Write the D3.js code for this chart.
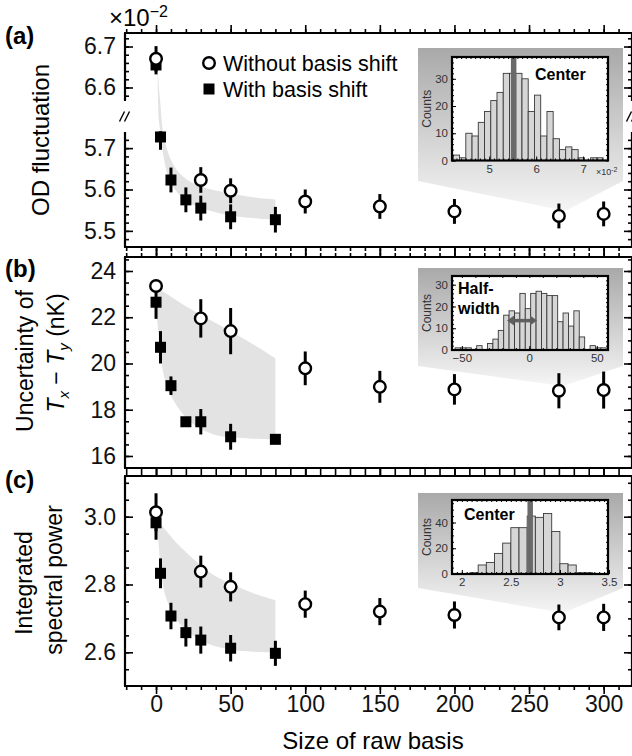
<!DOCTYPE html>
<html lang="en">
<head>
<meta charset="UTF-8">
<title>Raw basis size</title>
<script src="https://cdn.jsdelivr.net/npm/d3@7"></script>
<style>
  body { margin: 0; background: #fff; }
  svg { display: block; font-family: "Liberation Sans", Arial, sans-serif; }
</style>
</head>
<body>
<div id="chart-space"></div>
<script>
// ---- values ----
var sizeOpen   = [0, 30, 50, 100, 150, 200, 270, 300];   // without basis shift
var sizeFilled = [0, 3, 10, 20, 30, 50, 80];              // with basis shift

// (a) OD fluctuation, x 10^-2
var odOpen      = [6.670, 5.623, 5.597, 5.571, 5.559, 5.547, 5.536, 5.541];
var odOpenErr   = [0.031, 0.031, 0.030, 0.029, 0.030, 0.030, 0.030, 0.030];
var odFilled    = [6.655, 5.727, 5.623, 5.575, 5.555, 5.534, 5.527];
var odFilledErr = [0.023, 0.031, 0.030, 0.030, 0.030, 0.030, 0.031];
var odBandHi = [[1, 6.645], [2.7, 6.57], [4.9, 5.735], [8.3, 5.687], [13.9, 5.647], [22.8, 5.619], [34, 5.603], [49.7, 5.591], [65.3, 5.581], [80, 5.576]];
var odBandLo = [[1, 6.64], [2, 6.0], [3, 5.75], [5, 5.68], [10, 5.615], [20, 5.573], [30, 5.556], [50, 5.537], [80, 5.527]];

// (b) uncertainty of Tx - Ty (nK)
var tOpen      = [23.35, 21.95, 21.40, 19.79, 18.99, 18.88, 18.82, 18.85];
var tOpenErr   = [0.25, 0.83, 1.00, 0.73, 0.69, 0.66, 0.76, 0.80];
var tFilled    = [22.65, 20.70, 19.04, 17.48, 17.48, 16.83, 16.72];
var tFilledErr = [0.72, 0.70, 0.40, 0.20, 0.55, 0.56, 0.20];
var tBandHi = [[0.5, 23.26], [4.9, 23.1], [11.6, 22.82], [20.6, 22.45], [38.5, 21.8], [56.4, 21.16], [69.8, 20.65], [80, 20.22]];
var tBandLo = [[0.5, 22.17], [2.7, 20.58], [6, 19.28], [11.6, 18.42], [20.6, 17.62], [29.5, 17.19], [40.7, 16.9], [51.9, 16.8], [80, 16.71]];

// (c) integrated spectral power
var pOpen      = [3.013, 2.838, 2.793, 2.742, 2.720, 2.710, 2.703, 2.703];
var pOpenErr   = [0.056, 0.047, 0.043, 0.040, 0.040, 0.040, 0.038, 0.040];
var pFilled    = [2.982, 2.833, 2.707, 2.658, 2.636, 2.612, 2.597];
var pFilledErr = [0.050, 0.044, 0.039, 0.041, 0.040, 0.039, 0.037];
var pBandHi = [[0.5, 2.99], [7.2, 2.956], [16.1, 2.912], [38.5, 2.828], [51.9, 2.799], [65.3, 2.774], [80, 2.754]];
var pBandLo = [[0.5, 2.99], [1.5, 2.931], [3.8, 2.823], [7.2, 2.754], [13.9, 2.695], [22.8, 2.656], [34, 2.627], [51.9, 2.607], [80, 2.599]];

// inset histograms (counts per bin)
var histCenterOD   = [2, 1, 10, 9, 14, 18, 22, 25, 32, 32, 32, 30, 18, 24, 9, 18, 8, 4, 5, 4, 1, 0, 1, 1];
var histCenterODStart = 4.234, histCenterODWidth = 0.133, centerOD = 5.52;
var histHalfWidth  = [0, 1, 1, 1, 0, 2, 0, 3, 5, 9, 16, 18, 17, 26, 19, 26, 27, 26, 25, 25, 13, 17, 11, 18, 6, 0, 2, 1, 1];
var histHalfWidthStart = -59, histHalfWidthWidth = 4, halfWidthArrow = [-16.5, 5.7], halfWidthArrowAt = 13.5;
var histCenterP    = [0, 1, 7, 9, 16, 24, 36, 36, 45, 44, 47, 33, 8, 7, 1, 1];
var histCenterPStart = 2.0, histCenterPWidth = 0.0833, centerP = 2.697;

var xMajor = [0, 50, 100, 150, 200, 250, 300];
var legendLabels = ["Without basis shift", "With basis shift"];

// ---- layout ----
var width = 632, height = 756;
var svg = d3.select("#chart-space").append("svg")
    .attr("width", width).attr("height", height);

var defs = svg.append("defs");
var grad = defs.append("linearGradient").attr("id", "fade")
    .attr("x1", 0).attr("y1", 0).attr("x2", 0).attr("y2", 1);
grad.append("stop").attr("offset", 0).attr("stop-color", "#a9a9a9");
grad.append("stop").attr("offset", 0.8).attr("stop-color", "#e6e6e6");
grad.append("stop").attr("offset", 1).attr("stop-color", "#f6f6f6");

var xScale = d3.scaleLinear().domain([-20.8, 319]).range([125, 632]);
var xMinor = d3.range(-20, 320, 10);

// ---- insets (drawn first so the data marks sit on top) ----
function drawInset(c) {
  var g = svg.append("g");
  g.append("path").attr("d", d3.line()(c.shape) + "Z").attr("fill", "url(#fade)");
  var fx = c.frame[0], fy = c.frame[1], fw = c.frame[2], fh = c.frame[3];
  var ix = d3.scaleLinear().domain(c.xDomain).range([fx, fx + fw]);
  var iy = d3.scaleLinear().domain(c.yDomain).range([fy + fh, fy]);
  g.append("rect").attr("x", fx).attr("y", fy).attr("width", fw).attr("height", fh).attr("fill", "#fff");
  defs.append("clipPath").attr("id", c.id).append("rect")
    .attr("x", fx).attr("y", fy).attr("width", fw).attr("height", fh);
  var body = g.append("g").attr("clip-path", "url(#" + c.id + ")");
  var bins = c.counts.map(function(n, i){ return { a: c.start + i * c.width, b: c.start + (i + 1) * c.width, n: n }; });
  body.selectAll("rect.bar").data(bins).join("rect")
    .attr("x", function(d){ return ix(d.a); }).attr("width", function(d){ return ix(d.b) - ix(d.a); })
    .attr("y", function(d){ return iy(d.n); }).attr("height", function(d){ return iy(0) - iy(d.n); })
    .attr("fill", "#d6d6d6").attr("stroke", "#3a3a3a").attr("stroke-width", 0.9);
  if (c.center != null) {
    body.append("line").attr("x1", ix(c.center)).attr("x2", ix(c.center))
      .attr("y1", fy).attr("y2", fy + fh).attr("stroke", "#6a6a6a").attr("stroke-width", 5.5);
  }
  if (c.arrow) {
    var ay = iy(c.arrowAt), a0 = ix(c.arrow[0]), a1 = ix(c.arrow[1]);
    body.append("line").attr("x1", a0 + 4).attr("x2", a1 - 4).attr("y1", ay).attr("y2", ay)
      .attr("stroke", "#5e5e5e").attr("stroke-width", 3.5);
    body.append("path").attr("fill", "#5e5e5e")
      .attr("d", "M" + a0 + "," + ay + "l7,-5v10Z M" + a1 + "," + ay + "l-7,-5v10Z");
  }
  var tk = function(axisFn, scale, vals, len, fmt, tx, ty) {
    var a = axisFn(scale).tickValues(vals).tickSize(-len).tickPadding(4).tickFormat(fmt);
    var t = g.append("g").attr("transform", "translate(" + tx + "," + ty + ")").call(a);
    t.select(".domain").remove();
    t.selectAll(".tick line").attr("stroke", "#000").attr("stroke-width", 1);
    t.selectAll("text").attr("font-size", 11.5).attr("fill", "#333")
      .attr("font-family", "Liberation Sans, Arial, sans-serif");
  };
  tk(d3.axisBottom, ix, c.xMinor, 2, "", 0, fy + fh);
  tk(d3.axisTop, ix, c.xMinor, 2, "", 0, fy);
  tk(d3.axisLeft, iy, c.yMinor, 2, "", fx, 0);
  tk(d3.axisRight, iy, c.yMinor, 2, "", fx + fw, 0);
  tk(d3.axisBottom, ix, c.xTicks, 4, c.xFmt, 0, fy + fh);
  tk(d3.axisLeft, iy, c.yTicks, 4, d3.format("d"), fx, 0);
  g.append("rect").attr("x", fx).attr("y", fy).attr("width", fw).attr("height", fh)
    .attr("fill", "none").attr("stroke", "#000").attr("stroke-width", 2.2);
  g.append("text").attr("transform", "translate(" + (fx - 21) + "," + (fy + fh / 2) + ") rotate(-90)")
    .attr("text-anchor", "middle").attr("font-size", 12).attr("fill", "#333").text("Counts");
  c.label.forEach(function(l, i) {
    g.append("text").attr("x", c.labelX).attr("y", c.labelY + i * 20)
      .attr("font-size", 16).attr("font-weight", "bold").text(l);
  });
  return g;
}

var ia = drawInset({ id: "clipA", shape: [[418, 48], [623, 48], [623, 181], [565, 211], [418, 181]],
  frame: [452, 57, 156, 103.5], xDomain: [4.206, 7.53], yDomain: [0, 38],
  counts: histCenterOD, start: histCenterODStart, width: histCenterODWidth, center: centerOD,
  xTicks: [5, 6, 7], xMinor: d3.range(4.3, 7.5, 0.1), xFmt: d3.format("d"),
  yTicks: [0, 10, 20, 30], yMinor: d3.range(0, 38, 2),
  label: ["Center"], labelX: 535, labelY: 80 });
var xa2 = ia.append("text").attr("x", 596).attr("y", 175).attr("font-size", 9).attr("fill", "#333");
xa2.append("tspan").text("\u00d710");
xa2.append("tspan").attr("dy", -3).attr("font-size", 7).text("-2");

drawInset({ id: "clipB", shape: [[418, 268], [623, 268], [623, 366], [563, 386], [418, 366]],
  frame: [452, 276, 156, 74], xDomain: [-57.3, 58.3], yDomain: [0, 34],
  counts: histHalfWidth, start: histHalfWidthStart, width: histHalfWidthWidth,
  arrow: halfWidthArrow, arrowAt: halfWidthArrowAt,
  xTicks: [-50, 0, 50], xMinor: d3.range(-50, 58, 10), xFmt: d3.format("d"),
  yTicks: [0, 10, 20, 30], yMinor: d3.range(0, 34, 2),
  label: ["Half-", "width"], labelX: 458, labelY: 294 });

drawInset({ id: "clipC", shape: [[418, 493], [623, 493], [623, 588], [563, 613], [418, 588]],
  frame: [452, 500, 156, 74], xDomain: [1.9, 3.49], yDomain: [0, 57.5],
  counts: histCenterP, start: histCenterPStart, width: histCenterPWidth, center: centerP,
  xTicks: [2, 2.5, 3, 3.5], xMinor: d3.range(1.95, 3.49, 0.05), xFmt: d3.format("~g"),
  yTicks: [0, 20, 40], yMinor: d3.range(0, 57, 5),
  label: ["Center"], labelX: 464, labelY: 520 });

// ---- main panels ----
var panels = [
  { top: 33, bottom: 247,
    y: d3.scaleLinear().domain([5.461, 5.739, 6.567, 6.733]).range([247, 132, 101, 33]),
    major: [5.5, 5.6, 5.7, 6.6, 6.7],
    minor: d3.range(5.48, 5.735, 0.02).concat(d3.range(6.58, 6.73, 0.02)),
    fmt: ".1f", open: odOpen, openErr: odOpenErr, filled: odFilled, filledErr: odFilledErr,
    hi: odBandHi, lo: odBandLo, broken: [101, 132], label: "(a)", labelY: 44 },
  { top: 257, bottom: 468,
    y: d3.scaleLinear().domain([15.48, 24.605]).range([468, 257]),
    major: [16, 18, 20, 22, 24], minor: d3.range(15.5, 24.6, 0.5),
    fmt: "d", open: tOpen, openErr: tOpenErr, filled: tFilled, filledErr: tFilledErr,
    hi: tBandHi, lo: tBandLo, label: "(b)", labelY: 277 },
  { top: 476, bottom: 686,
    y: d3.scaleLinear().domain([2.5006, 3.12]).range([686, 476]),
    major: [2.6, 2.8, 3.0], minor: d3.range(2.55, 3.11, 0.05),
    fmt: ".1f", open: pOpen, openErr: pOpenErr, filled: pFilled, filledErr: pFilledErr,
    hi: pBandHi, lo: pBandLo, label: "(c)", labelY: 488, xLabels: true }
];

function styleAxis(g, size) {
  g.select(".domain").remove();
  g.selectAll(".tick line").attr("stroke", "#000").attr("stroke-width", 1.6);
  g.selectAll("text").attr("font-family", "Liberation Sans, Arial, sans-serif")
    .attr("font-size", size).attr("fill", "#111");
}

panels.forEach(function(p) {
  var y = p.y;
  var g = svg.append("g");
  var x0 = xScale.range()[0], x1 = xScale.range()[1];

  // shaded band
  var line = d3.line().x(function(d){ return xScale(d[0]); })
      .y(function(d){ return y(d[1]); }).curve(d3.curveCatmullRom);
  var lower = line(p.lo.slice().reverse());
  g.append("path")
    .attr("d", line(p.hi) + "L" + lower.slice(1) + "Z")
    .attr("fill", "#e3e3e3");

  // inward ticks on all four sides
  var ticks = function(axisFn, scale, vals, len, labels, tx, ty) {
    var a = axisFn(scale).tickValues(vals).tickSize(-len).tickPadding(9);
    a.tickFormat(labels ? d3.format(p.fmt) : "");
    var t = g.append("g").attr("transform", "translate(" + tx + "," + ty + ")").call(a);
    styleAxis(t, 23);
    return t;
  };
  ticks(d3.axisLeft, y, p.minor, 4, false, x0, 0);
  ticks(d3.axisLeft, y, p.major, 8, true, x0, 0);
  ticks(d3.axisRight, y, p.minor, 4, false, x1, 0);
  ticks(d3.axisRight, y, p.major, 8, false, x1, 0);
  ticks(d3.axisTop, xScale, xMinor, 4, false, 0, p.bottom);
  ticks(d3.axisBottom, xScale, xMinor, 4, false, 0, p.top);
  ticks(d3.axisTop, xScale, xMajor, 8, false, 0, p.bottom);
  ticks(d3.axisBottom, xScale, xMajor, 8, false, 0, p.top);
  if (p.xLabels) {
    var xa = g.append("g").attr("transform", "translate(0," + p.bottom + ")")
      .call(d3.axisBottom(xScale).tickValues(xMajor).tickSize(0).tickPadding(10));
    styleAxis(xa, 23);
  }

  // frame
  var fr = g.append("g").attr("stroke", "#000").attr("stroke-width", 2.2).attr("fill", "none");
  fr.append("line").attr("x1", x0 - 1).attr("x2", x1 + 1).attr("y1", p.top).attr("y2", p.top);
  fr.append("line").attr("x1", x0 - 1).attr("x2", x1 + 1).attr("y1", p.bottom).attr("y2", p.bottom);
  [x0, x1].forEach(function(xx) {
    if (p.broken) {
      fr.append("line").attr("x1", xx).attr("x2", xx).attr("y1", p.top).attr("y2", p.broken[0]);
      fr.append("line").attr("x1", xx).attr("x2", xx).attr("y1", p.broken[1]).attr("y2", p.bottom);
      var cy = (p.broken[0] + p.broken[1]) / 2;
      [-3, 2].forEach(function(o) {
        fr.append("line").attr("stroke-width", 1.4)
          .attr("x1", xx + o - 2.5).attr("y1", cy + 5).attr("x2", xx + o + 2.5).attr("y2", cy - 5);
      });
    } else {
      fr.append("line").attr("x1", xx).attr("x2", xx).attr("y1", p.top).attr("y2", p.bottom);
    }
  });

  // filled squares with error bars
  var fx = sizeFilled.map(function(s, i){ return { s: s, v: p.filled[i], e: p.filledErr[i] }; });
  g.selectAll(".ef").data(fx).join("line")
    .attr("x1", function(d){ return xScale(d.s); }).attr("x2", function(d){ return xScale(d.s); })
    .attr("y1", function(d){ return y(d.v - d.e); }).attr("y2", function(d){ return y(d.v + d.e); })
    .attr("stroke", "#000").attr("stroke-width", 3);
  g.selectAll(".sq").data(fx).join("rect")
    .attr("x", function(d){ return xScale(d.s) - 5.5; }).attr("y", function(d){ return y(d.v) - 5.5; })
    .attr("width", 11).attr("height", 11).attr("fill", "#000");

  // open circles with error bars
  var ox = sizeOpen.map(function(s, i){ return { s: s, v: p.open[i], e: p.openErr[i] }; });
  g.selectAll(".eo").data(ox).join("line")
    .attr("x1", function(d){ return xScale(d.s); }).attr("x2", function(d){ return xScale(d.s); })
    .attr("y1", function(d){ return y(d.v - d.e); }).attr("y2", function(d){ return y(d.v + d.e); })
    .attr("stroke", "#000").attr("stroke-width", 3);
  g.selectAll(".ci").data(ox).join("circle")
    .attr("cx", function(d){ return xScale(d.s); }).attr("cy", function(d){ return y(d.v); })
    .attr("r", 5.8).attr("fill", "#fff").attr("stroke", "#000").attr("stroke-width", 2.4);

  svg.append("text").attr("x", 5).attr("y", p.labelY)
    .attr("font-size", 24).attr("font-weight", "bold").text(p.label);
});

// axis titles
function vtext(xp, yp, size) {
  return svg.append("text").attr("transform", "translate(" + xp + "," + yp + ") rotate(-90)")
    .attr("text-anchor", "middle").attr("font-size", size);
}
vtext(49, 140, 24).text("OD fluctuation");
vtext(33, 361, 23).text("Uncertainty of");
var tt = vtext(64, 353, 23);
tt.append("tspan").attr("font-style", "italic").text("T");
tt.append("tspan").attr("font-style", "italic").attr("font-size", 15).attr("dy", 5).text("x");
tt.append("tspan").attr("dy", -5).text(" \u2212 ");
tt.append("tspan").attr("font-style", "italic").text("T");
tt.append("tspan").attr("font-style", "italic").attr("font-size", 15).attr("dy", 5).text("y");
tt.append("tspan").attr("dy", -5).text(" (nK)");
vtext(32, 583, 23).text("Integrated");
vtext(62, 580, 23).text("spectral power");

svg.append("text").attr("x", 373).attr("y", 749).attr("text-anchor", "middle")
  .attr("font-size", 24).text("Size of raw basis");

var mult = svg.append("text").attr("x", 109).attr("y", 26).attr("font-size", 24);
mult.append("tspan").text("\u00d710");
mult.append("tspan").attr("dy", -9).attr("font-size", 16).text("\u22122");

// legend
var leg = svg.append("g");
leg.append("circle").attr("cx", 209).attr("cy", 63).attr("r", 5.8)
  .attr("fill", "#fff").attr("stroke", "#000").attr("stroke-width", 2.4);
leg.append("rect").attr("x", 203.5).attr("y", 83.5).attr("width", 11).attr("height", 11).attr("fill", "#000");
leg.selectAll("text").data(legendLabels).join("text")
  .attr("x", 223).attr("y", function(d, i){ return 71 + i * 26; })
  .attr("font-size", 21.5).text(function(d){ return d; });
</script>
</body>
</html>
